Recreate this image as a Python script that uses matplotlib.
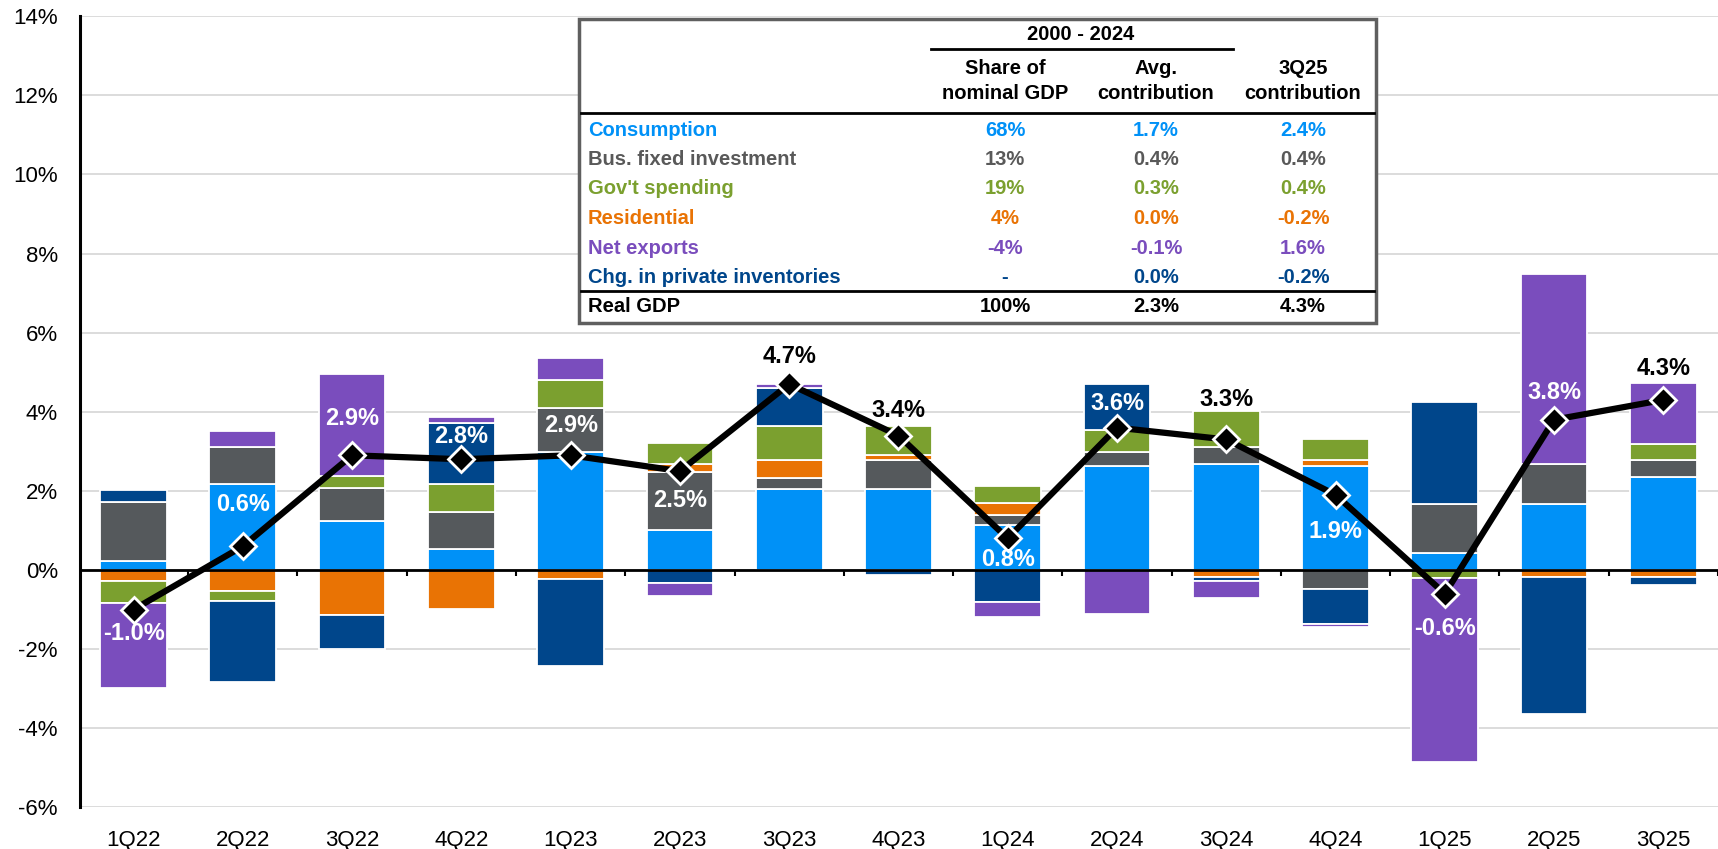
import numpy as np
import matplotlib
matplotlib.use("Agg")
import matplotlib.pyplot as plt
from matplotlib.patches import Rectangle
from matplotlib.lines import Line2D

plt.rcParams['font.family'] = ['Liberation Sans', 'DejaVu Sans']

# quarters
quarters = ['1Q22', '2Q22', '3Q22', '4Q22', '1Q23', '2Q23', '3Q23', '4Q23',
            '1Q24', '2Q24', '3Q24', '4Q24', '1Q25', '2Q25', '3Q25']

# contributions to real GDP growth (ppts)
consumption = [0.24, 2.18, 1.25, 0.54, 2.98, 1.00, 2.06, 2.06, 1.14, 2.62, 2.67, 2.62, 0.44, 1.66, 2.36]
bus_fixed_inv = [1.48, 0.93, 0.83, 0.92, 1.12, 1.48, 0.26, 0.71, 0.25, 0.36, 0.45, -0.49, 1.22, 1.03, 0.41]
residential = [-0.28, -0.53, -1.14, -0.99, -0.24, 0.20, 0.47, 0.14, 0.31, 0.0, -0.18, 0.15, 0.0, -0.18, -0.18]
govt = [-0.56, -0.26, 0.30, 0.72, 0.71, 0.54, 0.86, 0.73, 0.42, 0.56, 0.91, 0.54, -0.20, 0.0, 0.41]
inventories = [0.31, -2.05, -0.87, 1.54, -2.18, -0.34, 0.96, -0.12, -0.80, 1.16, -0.10, -0.87, 2.58, -3.45, -0.20]
net_exports = [-2.14, 0.40, 2.57, 0.15, 0.54, -0.31, 0.10, 0.0, -0.39, -1.11, -0.42, -0.08, -4.65, 4.80, 1.56]
real_gdp = [-1.0, 0.6, 2.9, 2.8, 2.9, 2.5, 4.7, 3.4, 0.8, 3.6, 3.3, 1.9, -0.6, 3.8, 4.3]

# table data
table_rows = ['Consumption', 'Bus. fixed investment', "Gov't spending", 'Residential',
              'Net exports', 'Chg. in private inventories']
share_nominal = ['68%', '13%', '19%', '4%', '-4%', '-']
avg_contrib = ['1.7%', '0.4%', '0.3%', '0.0%', '-0.1%', '0.0%']
latest_contrib = ['2.4%', '0.4%', '0.4%', '-0.2%', '1.6%', '-0.2%']
total_row = ['Real GDP', '100%', '2.3%', '4.3%']

C_CONS = '#0091F7'
C_BFI = '#55595C'
C_GOV = '#7BA02F'
C_RES = '#E97304'
C_NX = '#7A4DBD'
C_INV = '#00468B'

series = [
    (consumption, C_CONS),
    (bus_fixed_inv, C_BFI),
    (residential, C_RES),
    (govt, C_GOV),
    (inventories, C_INV),
    (net_exports, C_NX),
]

W, H = 1718, 849
fig = plt.figure(figsize=(W / 100, H / 100), dpi=100)
ax = fig.add_axes([80 / W, (H - 807.3) / H, 1 - 80 / W, (807.3 - 16.3) / H])

x = np.arange(len(quarters))
pos_base = np.zeros(len(x))
neg_base = np.zeros(len(x))
for vals, color in series:
    v = np.array(vals)
    bottom = np.where(v >= 0, pos_base, neg_base)
    mask = v != 0
    ax.bar(x[mask], v[mask], width=0.61, bottom=bottom[mask], color=color,
           edgecolor='white', linewidth=1.3, zorder=2)
    pos_base += np.clip(v, 0, None)
    neg_base += np.clip(v, None, 0)

ax.axhline(0, color='black', lw=2, zorder=3)
ax.vlines(np.arange(0.5, len(x)), -0.15, 0, color='black', lw=1.5, zorder=3)

ax.plot(x, real_gdp, color='black', lw=4.5, marker='D', ms=13.5,
        mfc='black', mec='white', mew=2, zorder=4)

# data labels: offset from the marker and text colour
label_offsets = [-0.6, 1.05, 0.94, 0.57, 0.76, -0.75, 0.7, 0.64, -0.53, 0.6, 1.0, -0.92, -0.89, 0.7, 0.8]
label_colors = ['white', 'white', 'white', 'white', 'white', 'white', 'black', 'black',
                'white', 'white', 'black', 'white', 'white', 'white', 'black']
for i, g in enumerate(real_gdp):
    ax.text(x[i], g + label_offsets[i], f'{g:.1f}%', ha='center', va='center',
            fontsize=17, fontweight='bold', color=label_colors[i], zorder=5)

ax.set_xlim(-0.49, len(x) - 0.5)
ax.set_ylim(-6, 14)
ax.set_yticks(range(-6, 15, 2))
ax.set_yticklabels([f'{t}%' for t in range(-6, 15, 2)])
ax.set_xticks(x)
ax.set_xticklabels(quarters)
ax.grid(axis='y', color='#D9D9D9', lw=1.3, zorder=0)
ax.set_axisbelow(True)
for s in ['top', 'right', 'bottom']:
    ax.spines[s].set_visible(False)
ax.spines['left'].set_linewidth(2.2)
ax.tick_params(axis='y', length=0, pad=16, labelsize=16)
ax.tick_params(axis='x', length=0, pad=16, labelsize=16)


# table drawn in figure pixel coordinates
def fx(px):
    return px / W


def fy(py):
    return 1 - py / H


fig.add_artist(Rectangle((fx(579), fy(323)), (1376 - 579) / W, (323 - 19) / H,
                         transform=fig.transFigure, facecolor='white',
                         edgecolor='#5F5F5F', lw=2.5, zorder=5))

tkw = dict(fontsize=14.5, fontweight='bold', va='center', zorder=6)
col_x = [1005, 1156, 1303]
fig.text(fx(1081), fy(35), '2000 - 2024', ha='center', color='black', **tkw)
fig.add_artist(Line2D([fx(931), fx(1233)], [fy(49), fy(49)], color='black', lw=2,
                      transform=fig.transFigure, zorder=6))
fig.text(fx(col_x[0]), fy(81), 'Share of\nnominal GDP', ha='center', color='black',
         linespacing=1.35, **tkw)
fig.text(fx(col_x[1]), fy(81), 'Avg.\ncontribution', ha='center', color='black',
         linespacing=1.35, **tkw)
fig.text(fx(col_x[2]), fy(81), '3Q25\ncontribution', ha='center', color='black',
         linespacing=1.35, **tkw)
for yy in [113, 291]:
    fig.add_artist(Line2D([fx(581), fx(1374)], [fy(yy), fy(yy)], color='black', lw=2,
                          transform=fig.transFigure, zorder=6))

row_colors = [C_CONS, '#595959', C_GOV, C_RES, C_NX, C_INV]
row_y = [130, 159.5, 189, 218.5, 248, 277.5]
for i, name in enumerate(table_rows):
    c = row_colors[i]
    fig.text(fx(588), fy(row_y[i]), name, ha='left', color=c, **tkw)
    fig.text(fx(col_x[0]), fy(row_y[i]), share_nominal[i], ha='center', color=c, **tkw)
    fig.text(fx(col_x[1]), fy(row_y[i]), avg_contrib[i], ha='center', color=c, **tkw)
    fig.text(fx(col_x[2]), fy(row_y[i]), latest_contrib[i], ha='center', color=c, **tkw)

fig.text(fx(588), fy(307), total_row[0], ha='left', color='black', **tkw)
for j in range(3):
    fig.text(fx(col_x[j]), fy(307), total_row[j + 1], ha='center', color='black', **tkw)

fig.savefig('out.png', dpi=100)
